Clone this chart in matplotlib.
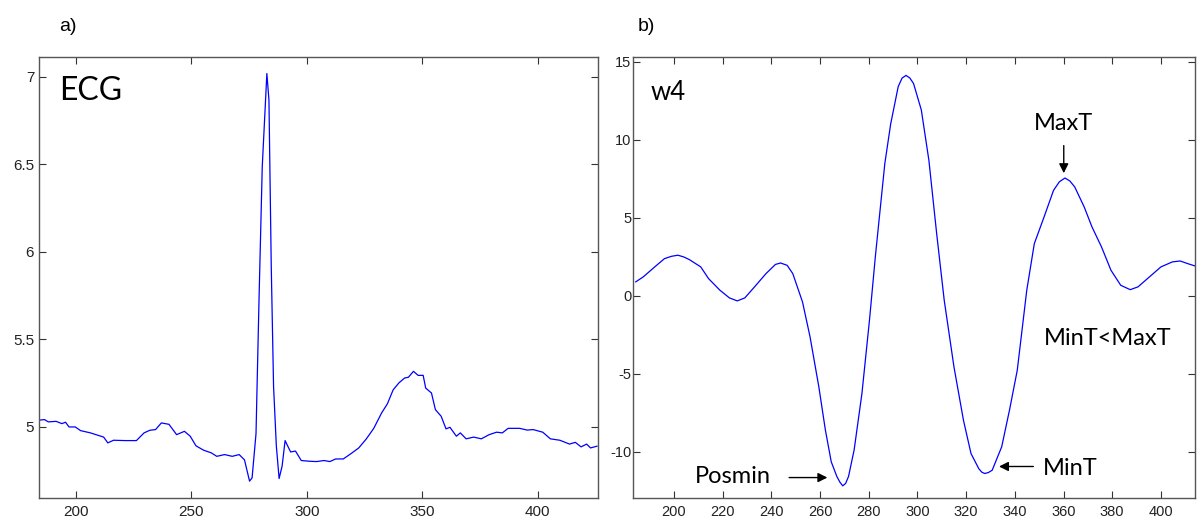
import matplotlib.pyplot as plt

plt.rcParams["axes.unicode_minus"] = False

# ECG trace (panel a)
ecg_x = [183.4, 186.4, 188.0, 191.4, 193.9, 195.5, 197.0, 199.7, 202.0, 206.3, 209.6, 212.0,
         213.8, 216.3, 221.2, 226.2, 229.5, 232.0, 234.5, 237.0, 240.3, 243.6, 247.0, 249.5,
         252.0, 255.3, 258.6, 261.0, 264.4, 267.7, 270.7, 273.0, 275.2, 276.3, 278.0, 279.3,
         280.7, 282.7, 283.6, 284.6, 285.6, 286.8, 288.0, 289.3, 290.6, 291.8, 293.0, 295.1,
         297.6, 301.0, 304.2, 307.5, 310.0, 312.5, 315.8, 319.2, 322.5, 325.8, 329.0, 332.4,
         334.9, 337.4, 339.9, 342.4, 344.0, 346.2, 348.2, 350.4, 351.5, 354.0, 355.7, 358.2,
         360.3, 362.0, 364.8, 366.5, 369.0, 372.3, 375.6, 379.0, 382.2, 384.7, 387.2, 392.2,
         395.5, 398.0, 402.2, 405.5, 409.6, 413.8, 416.3, 418.8, 421.2, 422.9, 425.7]
ecg_y = [5.036, 5.040, 5.027, 5.030, 5.017, 5.025, 4.998, 4.998, 4.977, 4.964, 4.950, 4.940,
         4.907, 4.922, 4.920, 4.920, 4.964, 4.979, 4.983, 5.021, 5.013, 4.954, 4.973, 4.945,
         4.890, 4.865, 4.850, 4.830, 4.840, 4.830, 4.840, 4.810, 4.688, 4.707, 4.960, 5.725,
         6.486, 7.019, 6.867, 5.915, 5.230, 4.890, 4.703, 4.774, 4.920, 4.887, 4.855, 4.860,
         4.806, 4.802, 4.800, 4.806, 4.800, 4.815, 4.815, 4.846, 4.878, 4.930, 4.990, 5.078,
         5.130, 5.210, 5.250, 5.278, 5.282, 5.316, 5.293, 5.293, 5.220, 5.192, 5.097, 5.059,
         4.987, 4.996, 4.945, 4.964, 4.930, 4.940, 4.930, 4.954, 4.968, 4.964, 4.990, 4.990,
         4.980, 4.983, 4.968, 4.930, 4.922, 4.900, 4.910, 4.884, 4.900, 4.878, 4.888]

# w4 wavelet coefficients (panel b)
w4_x = [184.3, 187.4, 192.1, 196.1, 199.0, 201.6, 204.0, 206.3, 211.0, 214.2, 218.9, 222.8,
        226.0, 229.1, 233.1, 237.8, 241.7, 243.8, 246.5, 248.8, 252.8, 255.9, 259.5, 262.2,
        264.6, 266.9, 268.1, 269.3, 270.5, 271.7, 274.0, 277.2, 280.3, 282.7, 286.6, 289.0,
        292.1, 293.7, 295.3, 296.9, 298.4, 301.6, 304.7, 307.9, 311.0, 315.0, 318.9, 322.0,
        325.2, 326.4, 327.6, 329.1, 330.7, 334.6, 337.8, 341.0, 344.9, 348.0, 352.0, 355.9,
        358.3, 360.6, 362.6, 364.6, 368.5, 371.7, 375.6, 379.5, 383.5, 387.4, 390.6, 395.3,
        400.0, 404.7, 407.9, 411.0, 414.0]
w4_y = [0.88, 1.20, 1.84, 2.37, 2.52, 2.59, 2.48, 2.31, 1.84, 1.09, 0.34, -0.15,
        -0.34, -0.15, 0.56, 1.41, 2.00, 2.09, 1.94, 1.41, -0.41, -2.65, -5.85, -8.63,
        -10.66, -11.60, -11.95, -12.20, -12.05, -11.60, -9.90, -6.28, -1.58, 2.48, 8.46, 11.00,
        13.40, 13.95, 14.12, 13.95, 13.60, 11.90, 8.68, 3.97, -0.30, -4.57, -7.99, -10.13,
        -11.10, -11.32, -11.41, -11.35, -11.20, -9.70, -7.35, -4.79, 0.34, 3.33, 5.04, 6.75,
        7.30, 7.54, 7.35, 6.97, 5.68, 4.40, 3.12, 1.62, 0.66, 0.38, 0.56, 1.20,
        1.84, 2.16, 2.22, 2.05, 1.90]

ecg_yticks = [5, 5.5, 6, 6.5, 7]
ecg_xticks = [200, 250, 300, 350, 400]
w4_yticks = [-10, -5, 0, 5, 10, 15]
w4_xticks = list(range(200, 401, 20))

W, H = 1204, 523
fig = plt.figure(figsize=(W / 100, H / 100), dpi=100)

tick_font = ["Liberation Sans", "DejaVu Sans"]
note_font = ["Lato", "DejaVu Sans"]


def style_axes(ax, size, ypad):
    ax.tick_params(direction="in", top=True, right=True, length=5, width=0.8,
                   colors="#333333", labelsize=size)
    ax.tick_params(axis="y", pad=ypad)
    ax.tick_params(axis="x", pad=5)
    for lab in ax.get_xticklabels() + ax.get_yticklabels():
        lab.set_family(tick_font)
        lab.set_color("#222222")
    for sp in ax.spines.values():
        sp.set_color("#555555")
        sp.set_linewidth(1.0)


# panel a
ax1 = fig.add_axes([39 / W, 1 - 498.3 / H, 558.7 / W, 441.6 / H])
ax1.plot(ecg_x, ecg_y, color="#0000FF", lw=0.9)
ax1.set_xlim(184, 426)
ax1.set_ylim(4.59, 7.115)
ax1.set_xticks(ecg_xticks)
ax1.set_yticks(ecg_yticks)
ax1.set_yticklabels(["5", "5.5", "6", "6.5", "7"])
style_axes(ax1, 11, 3.5)
ax1.text(0.036, 0.902, "ECG", transform=ax1.transAxes, fontsize=23, family=note_font,
         va="baseline", ha="left")

# panel b
ax2 = fig.add_axes([633.3 / W, 1 - 498.3 / H, 561.7 / W, 441.6 / H])
ax2.plot(w4_x, w4_y, color="#0000FF", lw=0.9)
ax2.set_xlim(183.3, 414)
ax2.set_ylim(-13.0, 15.32)
ax2.set_xticks(w4_xticks)
ax2.set_yticks(w4_yticks)
style_axes(ax2, 10.5, 1.5)
ax2.text(0.03, 0.902, "w4", transform=ax2.transAxes, fontsize=18.5, family=note_font,
         va="baseline", ha="left")

arrow = dict(arrowstyle="-|>", color="black", lw=1.0, mutation_scale=14,
             shrinkA=0, shrinkB=0)
ax2.annotate("", xy=(360.1, 7.85), xytext=(360.1, 9.62), arrowprops=arrow)
ax2.text(360, 10.62, "MaxT", fontsize=17, family=note_font, ha="center", va="baseline")
ax2.annotate("", xy=(263.0, -11.67), xytext=(247.3, -11.67), arrowprops=arrow)
ax2.text(224.3, -12.0, "Posmin", fontsize=17, family=note_font, ha="center", va="baseline")
ax2.annotate("", xy=(333.5, -10.96), xytext=(347.6, -10.96), arrowprops=arrow)
ax2.text(351.7, -11.49, "MinT", fontsize=17, family=note_font, ha="left", va="baseline")
ax2.text(352, -3.16, "MinT<MaxT", fontsize=17, family=note_font, ha="left", va="baseline")

fig.text(59 / W, 1 - 31 / H, "a)", fontsize=14, family=tick_font, va="baseline")
fig.text(638 / W, 1 - 31 / H, "b)", fontsize=14, family=tick_font, va="baseline")

fig.savefig("out.png", dpi=100)
